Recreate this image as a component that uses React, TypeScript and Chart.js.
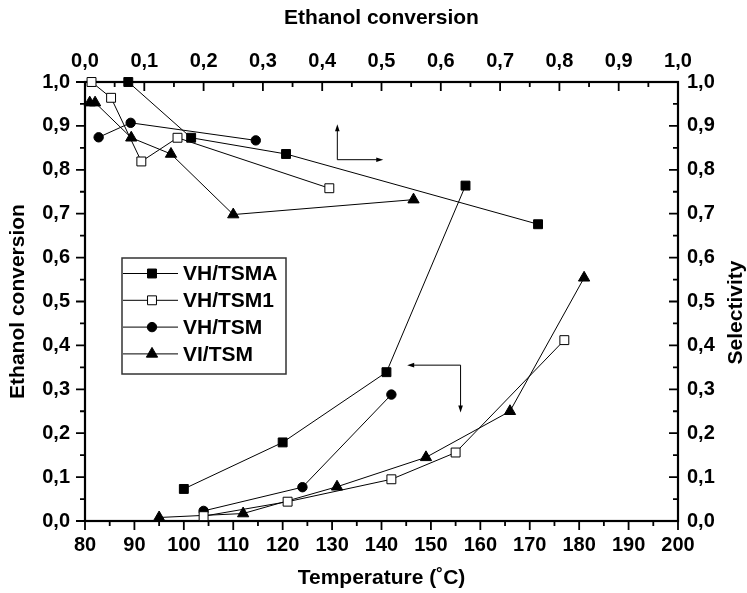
import React, { useEffect, useRef } from 'react';
import { Chart, registerables } from 'chart.js';

Chart.register(...registerables);

const FONT = "'Liberation Sans', Arial, Helvetica, sans-serif";

// ---- data ----
const seriesNames = ['VH/TSMA', 'VH/TSM1', 'VH/TSM', 'VI/TSM'];

const tempVHTSMA = [100, 120, 141, 157];
const convVHTSMA = [0.073, 0.179, 0.339, 0.764];
const selVHTSMA = [1.0, 0.873, 0.836, 0.676];

const tempVHTSM1 = [104, 121, 142, 155, 177];
const convVHTSM1 = [0.011, 0.044, 0.095, 0.156, 0.412];
const selVHTSM1 = [1.0, 0.964, 0.819, 0.873, 0.758];

const tempVHTSM = [104, 124, 142];
const convVHTSM = [0.023, 0.077, 0.288];
const selVHTSM = [0.874, 0.907, 0.867];

const tempVITSM = [95, 112, 131, 149, 166, 181];
const convVITSM = [0.008, 0.017, 0.078, 0.145, 0.25, 0.554];
const selVITSM = [0.953, 0.953, 0.873, 0.836, 0.698, 0.732];

const temperatureTicks = [80, 90, 100, 110, 120, 130, 140, 150, 160, 170, 180, 190, 200];
const fractionTicks = [0, 0.1, 0.2, 0.3, 0.4, 0.5, 0.6, 0.7, 0.8, 0.9, 1.0];

// annotation arrows (data coordinates)
const selArrow = { cx: 0.4255, cy: 0.823, tipX: 0.503, tipY: 0.904 }; // top/right axes
const convArrow = { cx: 156, cy: 0.355, tipX: 145.2, tipY: 0.247 }; // bottom/left axes

type Style = { pointStyle: string; radius: number; fill: string };
const styles: Style[] = [
  { pointStyle: 'rect', radius: 6.3, fill: '#000' },
  { pointStyle: 'rect', radius: 6.3, fill: '#fff' },
  { pointStyle: 'circle', radius: 4.7, fill: '#000' },
  { pointStyle: 'triangle', radius: 6.5, fill: '#000' },
];

const temps = [tempVHTSMA, tempVHTSM1, tempVHTSM, tempVITSM];
const convs = [convVHTSMA, convVHTSM1, convVHTSM, convVITSM];
const sels = [selVHTSMA, selVHTSM1, selVHTSM, selVITSM];

const fmt = (v: number) => v.toFixed(1).replace('.', ',');

function drawMarker(ctx: CanvasRenderingContext2D, st: Style, x: number, y: number) {
  ctx.save();
  ctx.beginPath();
  const r = st.radius;
  if (st.pointStyle === 'rect') {
    const s = Math.SQRT1_2 * r;
    ctx.rect(x - s, y - s, 2 * s, 2 * s);
  } else if (st.pointStyle === 'circle') {
    ctx.arc(x, y, r, 0, Math.PI * 2);
  } else {
    let rad = 0;
    ctx.moveTo(x + Math.sin(rad) * r, y - Math.cos(rad) * r);
    rad += (2 * Math.PI) / 3;
    ctx.lineTo(x + Math.sin(rad) * r, y - Math.cos(rad) * r);
    rad += (2 * Math.PI) / 3;
    ctx.lineTo(x + Math.sin(rad) * r, y - Math.cos(rad) * r);
    ctx.closePath();
  }
  ctx.fillStyle = st.fill;
  ctx.fill();
  ctx.lineWidth = 1;
  ctx.strokeStyle = '#000';
  ctx.stroke();
  ctx.restore();
}

function arrowHead(ctx: CanvasRenderingContext2D, x: number, y: number, a: number) {
  const L = 7, W = 2.3;
  const c = Math.cos(a), s = Math.sin(a);
  ctx.beginPath();
  ctx.moveTo(x, y);
  ctx.lineTo(x - L * c + W * s, y - L * s - W * c);
  ctx.lineTo(x - L * c - W * s, y - L * s + W * c);
  ctx.closePath();
  ctx.fill();
}

const framePlugin = {
  id: 'frameTicks',
  beforeDatasetsDraw(chart: any) {
    const { ctx, chartArea: a, scales } = chart;
    ctx.save();
    ctx.strokeStyle = '#000';
    ctx.lineWidth = 2.2;
    ctx.strokeRect(a.left, a.top, a.right - a.left, a.bottom - a.top);
    ctx.lineWidth = 1.8;
    const major = 9, minor = 5;
    ctx.beginPath();
    temperatureTicks.forEach((v, i) => {
      const p = scales.x.getPixelForValue(v);
      ctx.moveTo(p, a.bottom); ctx.lineTo(p, a.bottom + major);
      if (i < temperatureTicks.length - 1) {
        const m = scales.x.getPixelForValue((v + temperatureTicks[i + 1]) / 2);
        ctx.moveTo(m, a.bottom); ctx.lineTo(m, a.bottom + minor);
      }
    });
    fractionTicks.forEach((v, i) => {
      const nxt = i < fractionTicks.length - 1 ? (v + fractionTicks[i + 1]) / 2 : null;
      let p = scales.x2.getPixelForValue(v);
      ctx.moveTo(p, a.top); ctx.lineTo(p, a.top + major);
      if (nxt !== null) {
        const m = scales.x2.getPixelForValue(nxt);
        ctx.moveTo(m, a.top); ctx.lineTo(m, a.top + minor);
      }
      p = scales.y.getPixelForValue(v);
      ctx.moveTo(a.left, p); ctx.lineTo(a.left - major, p);
      if (nxt !== null) {
        const m = scales.y.getPixelForValue(nxt);
        ctx.moveTo(a.left, m); ctx.lineTo(a.left - minor, m);
      }
      p = scales.y2.getPixelForValue(v);
      ctx.moveTo(a.right, p); ctx.lineTo(a.right - major, p);
      if (nxt !== null) {
        const m = scales.y2.getPixelForValue(nxt);
        ctx.moveTo(a.right, m); ctx.lineTo(a.right - minor, m);
      }
    });
    ctx.stroke();
    ctx.restore();
  },
  afterDatasetsDraw(chart: any) {
    const { ctx, chartArea: a, scales } = chart;
    ctx.save();
    ctx.strokeStyle = '#000';
    ctx.fillStyle = '#000';
    ctx.lineWidth = 1;
    {
      const cx = scales.x2.getPixelForValue(selArrow.cx);
      const cy = scales.y2.getPixelForValue(selArrow.cy);
      const tx = scales.x2.getPixelForValue(selArrow.tipX);
      const ty = scales.y2.getPixelForValue(selArrow.tipY);
      ctx.beginPath();
      ctx.moveTo(cx, ty + 4); ctx.lineTo(cx, cy); ctx.lineTo(tx - 4, cy);
      ctx.stroke();
      arrowHead(ctx, cx, ty, -Math.PI / 2);
      arrowHead(ctx, tx, cy, 0);
    }
    {
      const cx = scales.x.getPixelForValue(convArrow.cx);
      const cy = scales.y.getPixelForValue(convArrow.cy);
      const tx = scales.x.getPixelForValue(convArrow.tipX);
      const ty = scales.y.getPixelForValue(convArrow.tipY);
      ctx.beginPath();
      ctx.moveTo(tx + 4, cy); ctx.lineTo(cx, cy); ctx.lineTo(cx, ty - 4);
      ctx.stroke();
      arrowHead(ctx, tx, cy, Math.PI);
      arrowHead(ctx, cx, ty, Math.PI / 2);
    }
    // legend box
    const bx = a.left + 37, by = a.top + 176, bw = 164, bh = 116;
    ctx.fillStyle = '#fff';
    ctx.fillRect(bx, by, bw, bh);
    ctx.strokeStyle = '#333';
    ctx.lineWidth = 1.5;
    ctx.strokeRect(bx, by, bw, bh);
    ctx.font = `bold 21px ${FONT}`;
    ctx.textBaseline = 'middle';
    ctx.textAlign = 'left';
    seriesNames.forEach((name, i) => {
      const y = by + 15.5 + i * 26.8;
      ctx.strokeStyle = '#000';
      ctx.lineWidth = 1;
      ctx.beginPath();
      ctx.moveTo(bx + 1, y); ctx.lineTo(bx + 56, y);
      ctx.stroke();
      drawMarker(ctx, styles[i], bx + 30, y);
      ctx.fillStyle = '#000';
      ctx.fillText(name, bx + 61, y + 1);
    });
    ctx.restore();
  },
  afterDraw(chart: any) {
    const { ctx, chartArea: a } = chart;
    ctx.save();
    ctx.font = `bold 21px ${FONT}`;
    ctx.fillStyle = '#000';
    ctx.textAlign = 'center';
    ctx.textBaseline = 'middle';
    ctx.translate(736, (a.top + a.bottom) / 2 + 11);
    ctx.rotate(-Math.PI / 2);
    ctx.fillText('Selectivity', 0, 0);
    ctx.restore();
  },
};

export default function App() {
  const ref = useRef<HTMLCanvasElement>(null);
  useEffect(() => {
    if (!ref.current) return;
    const datasets: any[] = [];
    seriesNames.forEach((name, i) => {
      const st = styles[i];
      const common = {
        label: name,
        showLine: true,
        borderColor: '#000',
        borderWidth: 1,
        pointStyle: st.pointStyle,
        pointRadius: st.radius,
        pointBackgroundColor: st.fill,
        pointBorderColor: '#000',
        pointBorderWidth: 1,
        clip: false,
      };
      datasets.push({
        ...common,
        data: temps[i].map((t, k) => ({ x: t, y: convs[i][k] })),
        xAxisID: 'x',
        yAxisID: 'y',
      });
      datasets.push({
        ...common,
        data: convs[i].map((c, k) => ({ x: c, y: sels[i][k] })),
        xAxisID: 'x2',
        yAxisID: 'y2',
      });
    });

    const tickFont = { family: FONT, size: 20, weight: 'bold' as const };
    const titleFont = { family: FONT, size: 21, weight: 'bold' as const };
    const baseScale = {
      type: 'linear' as const,
      grid: { display: false, drawTicks: false },
      border: { display: false },
    };

    const chart = new Chart(ref.current, {
      type: 'scatter',
      data: { datasets },
      options: {
        responsive: false,
        animation: false,
        layout: { padding: 0 },
        plugins: { legend: { display: false }, tooltip: { enabled: false } },
        scales: {
          x: {
            ...baseScale,
            position: 'bottom',
            min: 80,
            max: 200,
            afterBuildTicks: (s: any) => { s.ticks = temperatureTicks.map((v) => ({ value: v })); },
            afterFit: (s: any) => { s.height = 72; },
            ticks: { autoSkip: false, maxRotation: 0, padding: 12.5, color: '#000', font: tickFont, callback: (v: any) => String(v) },
            title: { display: true, text: 'Temperature (˚C)', color: '#000', font: titleFont, padding: { top: 0, bottom: 2 } },
          },
          x2: {
            ...baseScale,
            position: 'top',
            min: 0,
            max: 1,
            afterBuildTicks: (s: any) => { s.ticks = fractionTicks.map((v) => ({ value: v })); },
            afterFit: (s: any) => { s.height = 82; },
            ticks: { autoSkip: false, maxRotation: 0, padding: 9, color: '#000', font: tickFont, callback: (v: any) => fmt(Number(v)) },
            title: { display: true, text: 'Ethanol conversion', color: '#000', font: titleFont, padding: { top: 6, bottom: 0 } },
          },
          y: {
            ...baseScale,
            position: 'left',
            min: 0,
            max: 1,
            afterBuildTicks: (s: any) => { s.ticks = fractionTicks.map((v) => ({ value: v })); },
            afterFit: (s: any) => { s.width = 85; },
            ticks: { autoSkip: false, padding: 15, color: '#000', font: tickFont, callback: (v: any) => fmt(Number(v)) },
            title: { display: true, text: 'Ethanol conversion', color: '#000', font: titleFont, padding: { top: 6, bottom: 0 } },
          },
          y2: {
            ...baseScale,
            position: 'right',
            min: 0,
            max: 1,
            afterBuildTicks: (s: any) => { s.ticks = fractionTicks.map((v) => ({ value: v })); },
            afterFit: (s: any) => { s.width = 69; },
            ticks: { autoSkip: false, padding: 9, color: '#000', font: tickFont, callback: (v: any) => fmt(Number(v)) },
            title: { display: false },
          },
        },
      } as any,
      plugins: [framePlugin],
    });
    return () => chart.destroy();
  }, []);

  return (
    <div style={{ position: 'fixed', left: 0, top: 0, width: 747, height: 593, background: '#fff' }}>
      <canvas ref={ref} width={747} height={593} style={{ display: 'block', width: 747, height: 593 }} />
    </div>
  );
}
